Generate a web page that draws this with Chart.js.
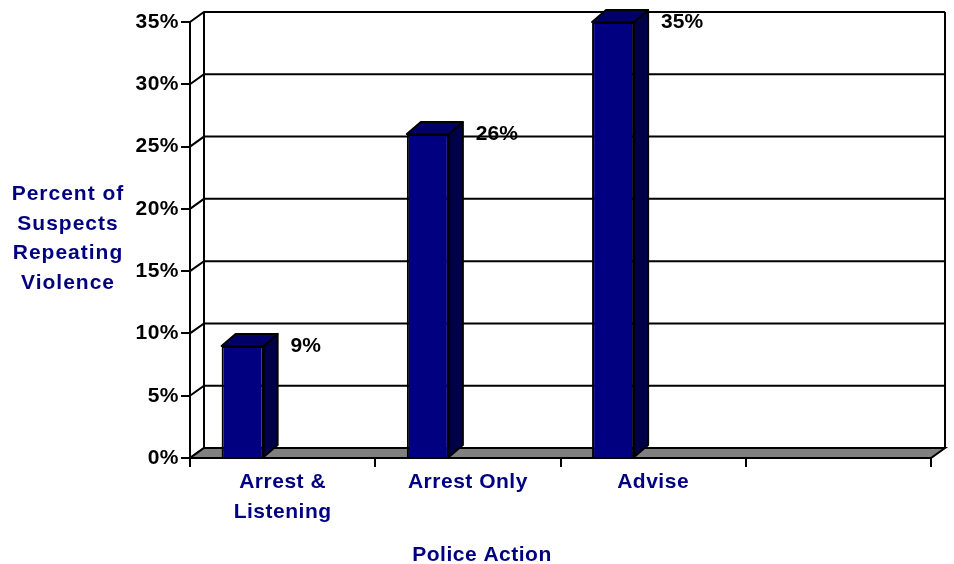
<!DOCTYPE html>
<html>
<head>
<meta charset="utf-8">
<script src="https://cdn.jsdelivr.net/npm/chart.js@4/dist/chart.umd.min.js"></script>
<style>html,body{margin:0;background:#fff}</style>
</head>
<body>
<canvas id="c" width="954" height="564"></canvas>
<script>
const categories = [['Arrest &', 'Listening'], 'Arrest Only', 'Advise', ''];
const percentRepeating = [9, 26, 35, null];
const spacer = [null, null, null, null];
const yTicks = [0, 5, 10, 15, 20, 25, 30, 35];
const yTitle = ['Percent of', 'Suspects', 'Repeating', 'Violence'];
const xTitle = 'Police Action';

const NAVY = '#000080';
const FAMILY = "'Liberation Sans', Arial, sans-serif";
const FONT = 'bold 21px ' + FAMILY;
const WALL = { dx: 14, dy: -10 };
const DEPTH = { dx: 14, dy: -12 };

// back wall, gridlines and floor of the fake 3d box, plus bar tops/sides
const box3d = {
  id: 'box3d',
  beforeDraw(chart) {
    chart.ctx.letterSpacing = '0.5px';
  },
  beforeDatasetsDraw(chart) {
    const { ctx, chartArea: a, scales: { y } } = chart;
    const bl = a.left + WALL.dx, br = a.right + WALL.dx;
    const bt = a.top + WALL.dy, bb = a.bottom + WALL.dy;
    ctx.save();
    ctx.strokeStyle = '#000';
    ctx.lineWidth = 2;
    yTicks.forEach(v => {
      const py = y.getPixelForValue(v);
      ctx.beginPath();
      ctx.moveTo(a.left, py);
      ctx.lineTo(bl, py + WALL.dy);
      ctx.lineTo(br, py + WALL.dy);
      ctx.stroke();
    });
    ctx.beginPath();
    ctx.moveTo(bl, bt); ctx.lineTo(bl, bb);
    ctx.moveTo(br, bt); ctx.lineTo(br, bb);
    ctx.stroke();
    // floor
    ctx.beginPath();
    ctx.moveTo(a.left, a.bottom);
    ctx.lineTo(a.right, a.bottom);
    ctx.lineTo(br, bb);
    ctx.lineTo(bl, bb);
    ctx.closePath();
    ctx.fillStyle = '#808080';
    ctx.fill();
    ctx.stroke();
    ctx.restore();
  },
  afterDatasetsDraw(chart) {
    const { ctx } = chart;
    const meta = chart.getDatasetMeta(0);
    ctx.save();
    ctx.strokeStyle = '#000';
    ctx.lineWidth = 2;
    ctx.lineJoin = 'round';
    meta.data.forEach((bar, i) => {
      const v = percentRepeating[i];
      if (v == null) return;
      const { x, y, base, width } = bar.getProps(['x', 'y', 'base', 'width'], true);
      const x0 = x - width / 2, x1 = x + width / 2;
      // side
      ctx.beginPath();
      ctx.moveTo(x1, y);
      ctx.lineTo(x1 + DEPTH.dx, y + DEPTH.dy);
      ctx.lineTo(x1 + DEPTH.dx, base + DEPTH.dy);
      ctx.lineTo(x1, base);
      ctx.closePath();
      ctx.fillStyle = '#00004a';
      ctx.fill();
      ctx.stroke();
      // top
      ctx.beginPath();
      ctx.moveTo(x0, y);
      ctx.lineTo(x1, y);
      ctx.lineTo(x1 + DEPTH.dx, y + DEPTH.dy);
      ctx.lineTo(x0 + DEPTH.dx, y + DEPTH.dy);
      ctx.closePath();
      ctx.fillStyle = '#000068';
      ctx.fill();
      ctx.stroke();
      // value label
      ctx.fillStyle = '#000';
      ctx.font = FONT;
      ctx.textAlign = 'left';
      ctx.textBaseline = 'middle';
      ctx.letterSpacing = '0px';
      ctx.fillText(v + '%', x1 + DEPTH.dx + 13, y);
    });
    ctx.restore();
  },
  afterDraw(chart) {
    const { ctx } = chart;
    ctx.save();
    ctx.fillStyle = NAVY;
    ctx.font = FONT;
    ctx.textAlign = 'center';
    ctx.textBaseline = 'alphabetic';
    ctx.letterSpacing = '1px';
    yTitle.forEach((line, i) => ctx.fillText(line, 68, 200 + i * 29.5));
    ctx.letterSpacing = '0.5px';
    ctx.fillText(xTitle, 482, 561);
    ctx.restore();
  }
};

new Chart(document.getElementById('c'), {
  type: 'bar',
  data: {
    labels: categories,
    datasets: [
      {
        label: 'Percent of Suspects Repeating Violence',
        data: percentRepeating,
        backgroundColor: NAVY,
        borderColor: '#000',
        borderWidth: 2,
        categoryPercentage: 0.864,
        barPercentage: 0.525
      },
      {
        label: '',
        data: spacer,
        categoryPercentage: 0.864,
        barPercentage: 0.525
      }
    ]
  },
  options: {
    responsive: false,
    animation: false,
    layout: { padding: { top: 22, right: 23, left: 0, bottom: 0 } },
    plugins: {
      legend: { display: false },
      tooltip: { enabled: false }
    },
    scales: {
      y: {
        min: 0,
        max: 35,
        ticks: {
          stepSize: 5,
          callback: v => v + '%',
          color: '#000',
          font: { family: FAMILY, size: 21, weight: 'bold' },
          padding: 2
        },
        grid: { drawOnChartArea: false, tickLength: 9, color: '#000', lineWidth: 2 },
        border: { color: '#000', width: 2 },
        afterFit: s => { s.width = 190; }
      },
      x: {
        ticks: {
          color: NAVY,
          font: { family: FAMILY, size: 21, weight: 'bold', lineHeight: 1.4 },
          padding: 1,
          maxRotation: 0,
          autoSkip: false
        },
        grid: { drawOnChartArea: false, offset: true, tickLength: 9, color: '#000', lineWidth: 2 },
        border: { color: '#000', width: 2 },
        afterFit: s => { s.height = 106; }
      }
    }
  },
  plugins: [box3d]
});
</script>
</body>
</html>
